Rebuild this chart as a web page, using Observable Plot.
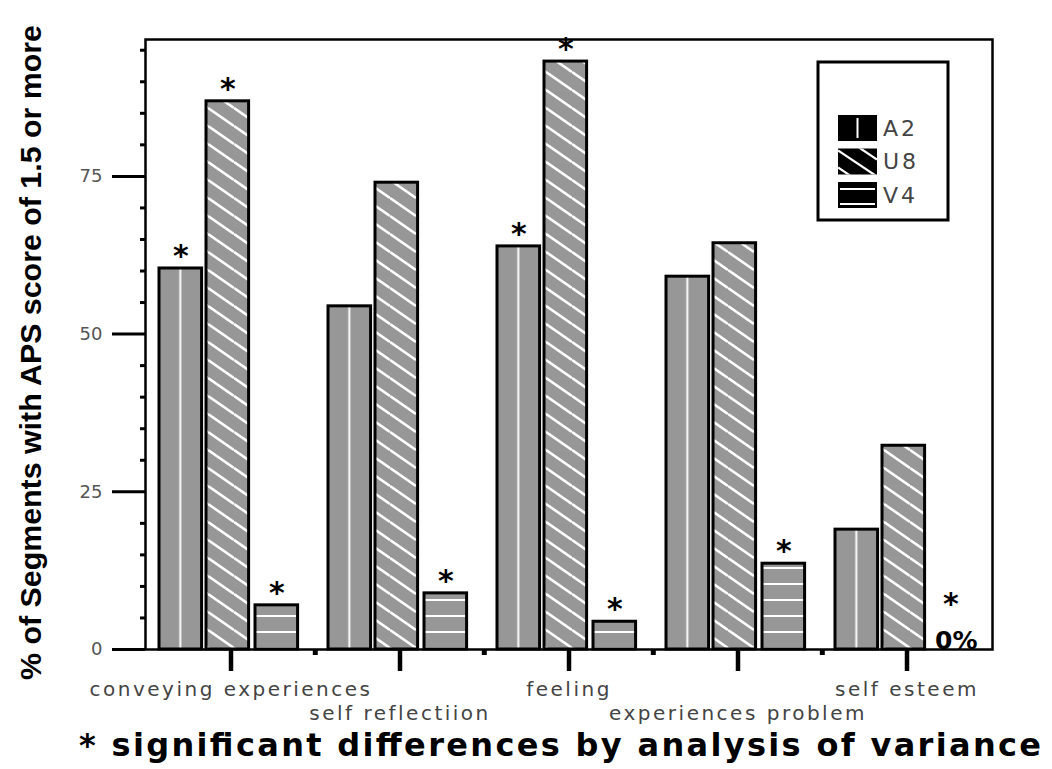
<!DOCTYPE html>
<html>
<head>
<meta charset="utf-8">
<script src="https://cdn.jsdelivr.net/npm/d3@7"></script>
<script src="https://cdn.jsdelivr.net/npm/@observablehq/plot@0.6"></script>
<style>
  body { margin: 0; background: #fff; }
  #chart svg { display: block; }
</style>
</head>
<body>
<div id="chart"></div>
<script>
// ---------------- data ----------------
const categories = ["conveying experiences", "self reflectiion", "feeling", "experiences problem", "self esteem"];
const series = ["A2", "U8", "V4"];
const valuesA2 = [60.4, 54.4, 63.9, 59.1, 19.0];
const valuesU8 = [86.9, 74.0, 93.2, 64.4, 32.3];
const valuesV4 = [7.0, 8.9, 4.4, 13.6, 0];
const significantA2 = [true, false, true, false, false];
const significantU8 = [true, false, true, false, false];
const significantV4 = [true, true, true, true, true];
const yTicks = [0, 25, 50, 75];
const yMinorStep = 5;
const yMax = 96.7;
const yLabel = "% of Segments with APS score of 1.5 or more";
const caption = "* significant differences by analysis of variance";

const valuesBySeries = {A2: valuesA2, U8: valuesU8, V4: valuesV4};
const sigBySeries = {A2: significantA2, U8: significantU8, V4: significantV4};
const data = [];
categories.forEach((c, i) => series.forEach(s => data.push({
  category: c, series: s, value: valuesBySeries[s][i], sig: sigBySeries[s][i]
})));

// ---------------- layout ----------------
const W = 1052, H = 769;
const mL = 145, mR = 60, mT = 39, mB = 120;
const bw = (W - mL - mR) / categories.length;
const slots = {A2: [13, 56], U8: [60, 103], V4: [109, 152]};
const minorTicks = d3.range(0, yMax, yMinorStep).filter(v => !yTicks.includes(v));

const marks = [];
series.forEach(s => {
  const [a, b] = slots[s];
  const rows = data.filter(d => d.series === s);
  const center = (a + b) / 2 - bw / 2;
  marks.push(Plot.barY(rows.filter(d => d.value > 0), {
    x: "category", y: "value", fill: `url(#p${s})`, stroke: "black", strokeWidth: 3,
    insetLeft: a, insetRight: bw - b
  }));
  marks.push(Plot.text(rows.filter(d => d.sig && d.value > 0), {
    x: "category", y: "value", text: () => "*", dx: center, dy: -12,
    lineAnchor: "middle", fontSize: 30, fontWeight: "bold", fill: "black"
  }));
  marks.push(Plot.text(rows.filter(d => d.sig && d.value === 0), {
    x: "category", y: "value", text: () => "*", dx: center - 2, dy: -45,
    lineAnchor: "middle", fontSize: 30, fontWeight: "bold", fill: "black"
  }));
  marks.push(Plot.text(rows.filter(d => d.value === 0), {
    x: "category", y: "value", text: () => "0%", dx: center + 3.5, dy: -9,
    lineAnchor: "middle", fontSize: 25, fontWeight: "bold", fill: "black"
  }));
});

const svg = Plot.plot({
  width: W, height: H,
  marginLeft: mL, marginRight: mR, marginTop: mT, marginBottom: mB,
  style: {fontFamily: "DejaVu Sans", background: "white", overflow: "visible"},
  x: {domain: categories, padding: 0, axis: null},
  y: {domain: [0, yMax], axis: null},
  marks: [
    ...marks,
    Plot.frame({stroke: "black", strokeWidth: 2.5}),
    Plot.axisY(yTicks, {label: null, tickSize: 33, tickPadding: 10, strokeWidth: 3, stroke: "black", fill: "#555", fontSize: 18}),
    Plot.axisY(minorTicks, {label: null, tickSize: 5, strokeWidth: 3, stroke: "black", tickFormat: () => ""}),
    Plot.axisX(categories, {label: null, tickSize: 22, strokeWidth: 4.5, stroke: "black", tickFormat: () => ""}),
    Plot.axisX(categories.slice(1), {label: null, dx: -bw / 2, tickSize: 6, strokeWidth: 5, stroke: "black", tickFormat: () => ""}),
    Plot.text(categories.filter((d, i) => i % 2 === 0), {
      x: d => d, text: d => d, frameAnchor: "bottom", dy: 40, lineAnchor: "middle",
      fontSize: 20, fill: "#444"
    }),
    Plot.text(categories.filter((d, i) => i % 2 === 1), {
      x: d => d, text: d => d, frameAnchor: "bottom", dy: 64, lineAnchor: "middle",
      fontSize: 20, fill: "#444"
    }),
    Plot.text([yLabel], {
      text: d => d, frameAnchor: "left", textAnchor: "middle", dx: -114, dy: 8, rotate: -90, lineAnchor: "middle",
      fontSize: 29, fontWeight: "bold", fontFamily: "Liberation Sans", fill: "black"
    }),
    Plot.text([caption], {
      text: d => d, frameAnchor: "bottom", textAnchor: "middle", dx: -9, dy: 96, lineAnchor: "middle",
      fontSize: 32, fontWeight: "bold", fill: "black"
    })
  ]
});

// ---------------- patterns ----------------
const root = d3.select(svg);
const defs = root.insert("defs", ":first-child");
const gray = "#979797";
const pA2 = defs.append("pattern").attr("id", "pA2")
  .attr("patternUnits", "objectBoundingBox").attr("patternContentUnits", "objectBoundingBox")
  .attr("width", 1).attr("height", 1);
pA2.append("rect").attr("width", 1).attr("height", 1).attr("fill", gray);
pA2.append("rect").attr("x", 0.477).attr("width", 0.046).attr("height", 1).attr("fill", "white");
const pU8 = defs.append("pattern").attr("id", "pU8")
  .attr("patternUnits", "userSpaceOnUse").attr("width", 26).attr("height", 18);
pU8.append("rect").attr("width", 26).attr("height", 18).attr("fill", gray);
[-18, 0, 18].forEach(o => pU8.append("line")
  .attr("x1", 0).attr("y1", o).attr("x2", 26).attr("y2", o + 18)
  .attr("stroke", "white").attr("stroke-width", 2.6));
const pV4 = defs.append("pattern").attr("id", "pV4")
  .attr("patternUnits", "userSpaceOnUse").attr("width", 10).attr("height", 16);
pV4.append("rect").attr("width", 10).attr("height", 16).attr("fill", gray);
pV4.append("rect").attr("y", 7).attr("width", 10).attr("height", 2).attr("fill", "white");

// ---------------- text fitting ----------------
const allText = root.selectAll("text");
allText.filter(function () { return categories.includes(this.textContent); })
  .style("letter-spacing", "2.5px");
allText.filter(function () { return this.textContent === yLabel; })
  .attr("textLength", 655).attr("lengthAdjust", "spacingAndGlyphs");
allText.filter(function () { return this.textContent === caption; })
  .attr("textLength", 962).attr("lengthAdjust", "spacing");

// ---------------- legend ----------------
const lg = root.append("g").attr("transform", "translate(818,62)");
lg.append("rect").attr("width", 130).attr("height", 158).attr("fill", "white")
  .attr("stroke", "black").attr("stroke-width", 3);
const clip = defs.append("clipPath").attr("id", "swclip");
clip.append("rect").attr("x", 20).attr("y", 0).attr("width", 39).attr("height", 26);
series.forEach((s, i) => {
  const y0 = 53 + i * 33.5;
  const g = lg.append("g").attr("transform", `translate(0,${y0})`);
  g.append("rect").attr("x", 20).attr("width", 39).attr("height", 26).attr("fill", "black");
  if (s === "A2") {
    g.append("rect").attr("x", 38.5).attr("y", 3).attr("width", 2).attr("height", 20).attr("fill", "white");
  } else if (s === "U8") {
    const cg = g.append("g").attr("clip-path", "url(#swclip)");
    [-17, 0, 17].forEach(o => cg.append("line")
      .attr("x1", 20).attr("y1", 2 + o).attr("x2", 59).attr("y2", 28 + o)
      .attr("stroke", "white").attr("stroke-width", 2.2));
  } else {
    g.append("rect").attr("x", 22).attr("y", 6).attr("width", 35).attr("height", 2).attr("fill", "white");
    g.append("rect").attr("x", 22).attr("y", 21).attr("width", 35).attr("height", 2).attr("fill", "white");
  }
  g.append("text").attr("x", 65).attr("y", 13).attr("dy", "0.36em").attr("text-anchor", "start")
    .attr("font-size", 22).attr("fill", "#444").style("letter-spacing", "3px").text(s);
});

document.getElementById("chart").appendChild(svg);
</script>
</body>
</html>
